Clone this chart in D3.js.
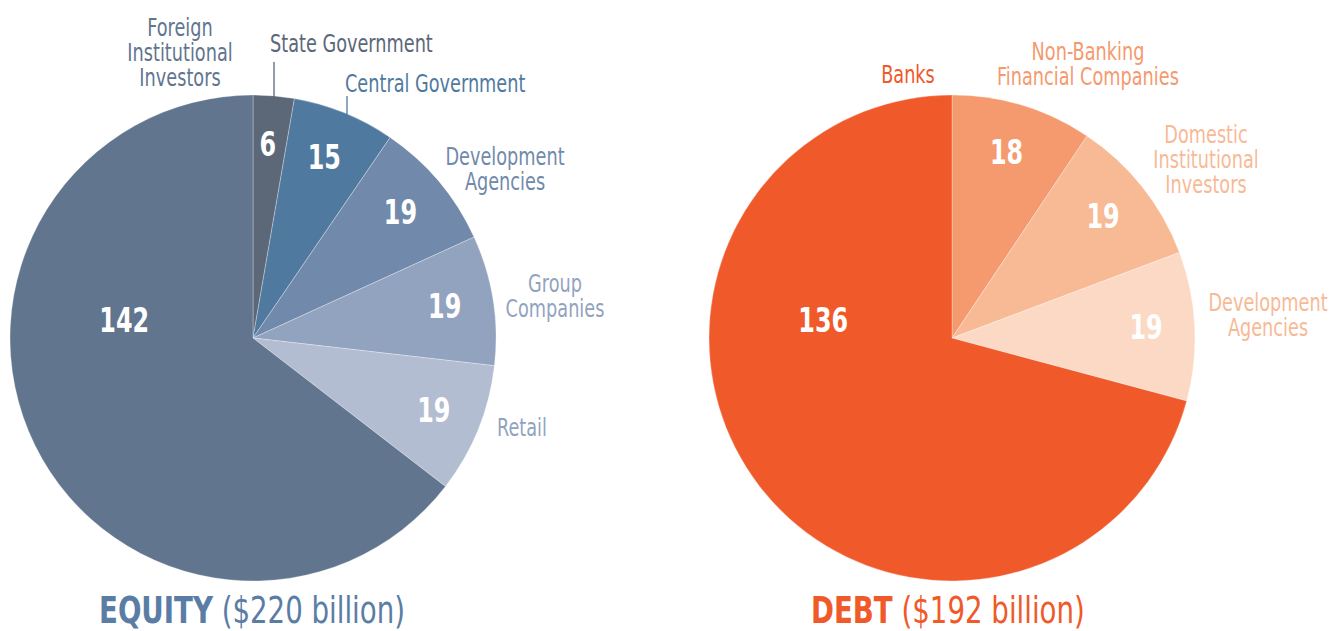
<!DOCTYPE html>
<html>
<head>
<meta charset="utf-8">
<script src="https://cdn.jsdelivr.net/npm/d3@7"></script>
<style>
  body { margin: 0; background: #fff; }
  svg text { font-family: "DejaVu Sans Condensed", "DejaVu Sans", sans-serif; font-stretch: condensed; }
</style>
</head>
<body>
<div id="chart"></div>
<script>
// equity, clockwise from 12 o'clock
var equityNames = ["State Government", "Central Government", "Development Agencies", "Group Companies", "Retail", "Foreign Institutional Investors"];
var equityValues = [6, 15, 19, 19, 19, 142];
var equityColors = ["#5c6778", "#50799f", "#7189ab", "#92a3bf", "#b2bdd2", "#61758f"];
var equityTextColors = ["#5c6778", "#50799f", "#7189ab", "#92a3bf", "#92a3bf", "#61758f"];

// debt, clockwise from 12 o'clock
var debtNames = ["Non-Banking Financial Companies", "Domestic Institutional Investors", "Development Agencies", "Banks"];
var debtValues = [18, 19, 19, 136];
var debtColors = ["#f59a6e", "#f8b995", "#fcd9c4", "#f0592a"];
var debtTextColors = ["#f59a6e", "#f8b995", "#f8b995", "#f0592a"];

var svgWidth = 1331;
var svgHeight = 631;
var radius = 243;
var squeeze = 0.82; // no condensed font here, so squash text horizontally

var svg = d3.select("#chart")
  .append("svg")
  .attr("width", svgWidth)
  .attr("height", svgHeight);

var pie = d3.pie().sort(null).value(d => d);
var arc = d3.arc().innerRadius(0).outerRadius(radius);

// outer label layout, relative to each pie centre: [x, y of first baseline, anchor, lines]
var equityLabels = [
  {x: 17, y: -286, anchor: "start", lines: ["State Government"]},
  {x: 92, y: -246, anchor: "start", lines: ["Central Government"]},
  {x: 252, y: -173, anchor: "middle", lines: ["Development", "Agencies"]},
  {x: 302, y: -46, anchor: "middle", lines: ["Group", "Companies"]},
  {x: 244, y: 98, anchor: "start", lines: ["Retail"]},
  {x: -73, y: -302, anchor: "middle", lines: ["Foreign", "Institutional", "Investors"]}
];
var debtLabels = [
  {x: 136, y: -278, anchor: "middle", lines: ["Non-Banking", "Financial Companies"]},
  {x: 254, y: -195, anchor: "middle", lines: ["Domestic", "Institutional", "Investors"]},
  {x: 316, y: -27, anchor: "middle", lines: ["Development", "Agencies"]},
  {x: -44, y: -255, anchor: "middle", lines: ["Banks"]}
];

// leader lines for equity (x offset, from y to pie edge)
var equityLeaders = [
  {slice: 0, x: 21, y1: -276},
  {slice: 1, x: 94, y1: -242}
];

function drawPie(cx, cy, values, colors, textColors, labels, leaders) {
  var g = svg.append("g").attr("transform", `translate(${cx}, ${cy})`);
  var arcs = pie(values);

  g.selectAll("path")
    .data(arcs)
    .enter()
    .append("path")
    .attr("d", arc)
    .attr("fill", (d, i) => colors[i])
    .attr("stroke", "#ffffff")
    .attr("stroke-opacity", 0.5)
    .attr("stroke-width", 0.6);

  var maxV = d3.max(values);
  g.selectAll("text.val")
    .data(arcs)
    .enter()
    .append("text")
    .attr("class", "val")
    .attr("transform", d => {
      var a, r;
      if (d.data === maxV) { a = 278 * Math.PI / 180; r = radius * 0.535; }
      else { a = (d.startAngle + d.endAngle) / 2 - 0.01; r = radius * 0.8; }
      return `translate(${r * Math.sin(a)}, ${-r * Math.cos(a)}) scale(0.78, 1)`;
    })
    .attr("dy", "0.36em")
    .attr("text-anchor", "middle")
    .attr("fill", "#ffffff")
    .style("font-weight", "bold")
    .style("font-size", "34px")
    .text(d => d.data);

  labels.forEach((l, i) => {
    var t = g.append("text")
      .attr("transform", `translate(${l.x}, ${l.y}) scale(${squeeze}, 1)`)
      .attr("text-anchor", l.anchor)
      .attr("fill", textColors[i])
      .style("font-size", "24px");
    l.lines.forEach((s, j) => {
      t.append("tspan").attr("x", 0).attr("dy", j === 0 ? 0 : 25).text(s);
    });
  });

  (leaders || []).forEach(l => {
    var y2 = -Math.sqrt(radius * radius - l.x * l.x);
    g.append("line")
      .attr("x1", l.x).attr("x2", l.x)
      .attr("y1", l.y1).attr("y2", y2 + 2)
      .attr("stroke", textColors[l.slice])
      .attr("stroke-width", 1.3);
  });
  return g;
}

drawPie(253, 338, equityValues, equityColors, equityTextColors, equityLabels, equityLeaders);
drawPie(952, 338, debtValues, debtColors, debtTextColors, debtLabels, []);

function title(x, bold, rest, color) {
  var t = svg.append("text")
    .attr("transform", `translate(${x}, 623) scale(0.83, 1)`)
    .attr("fill", color)
    .style("font-size", "37px");
  t.append("tspan").style("font-weight", "bold").text(bold);
  t.append("tspan").text(" " + rest);
}
title(99, "EQUITY", "($" + d3.sum(equityValues) + " billion)", "#5a7da5");
title(811, "DEBT", "($" + d3.sum(debtValues) + " billion)", "#f0592a");
</script>
</body>
</html>
